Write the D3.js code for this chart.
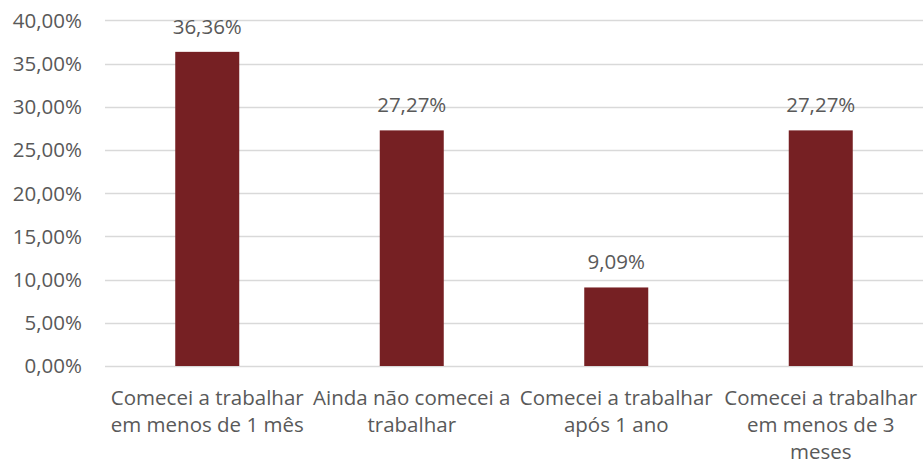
<!DOCTYPE html>
<html>
<head>
<meta charset="utf-8">
<script src="https://cdn.jsdelivr.net/npm/d3@7"></script>
<style>
  body { margin: 0; background: #fff; }
  text { font-family: "Open Sans", sans-serif; fill: #595959; }
</style>
</head>
<body>
<svg id="chart"></svg>
<script>
var w = 923;
var h = 466;

// data
var categories = [
  ["Comecei a trabalhar", "em menos de 1 mês"],
  ["Ainda não comecei a", "trabalhar"],
  ["Comecei a trabalhar", "após 1 ano"],
  ["Comecei a trabalhar", "em menos de 3", "meses"]
];
var values = [0.3636, 0.2727, 0.0909, 0.2727];
var valueLabels = ["36,36%", "27,27%", "9,09%", "27,27%"];
var yTicks = [0, 0.05, 0.10, 0.15, 0.20, 0.25, 0.30, 0.35, 0.40];

var margin = {top: 20.4, left: 105};
var fontSize = "20.5px";

var svg = d3.select("#chart")
            .attr("width", w)
            .attr("height", h);

var scaleX = d3.scaleBand()
  .domain(d3.range(values.length))
  .range([margin.left, w])
  .paddingInner(0.687)
  .paddingOuter(0.3435);

var scaleY = d3.scaleLinear()
  .domain([0, 0.4])
  .range([366, margin.top]);

var fmt = function(v){
  return (v * 100).toFixed(2).replace(".", ",") + "%";
};

// gridlines
svg.selectAll("line.grid")
  .data(yTicks)
  .enter()
  .append("line")
    .attr("class", "grid")
    .attr("x1", margin.left)
    .attr("x2", w)
    .attr("y1", function(d){ return Math.round(scaleY(d)) + 0.5; })
    .attr("y2", function(d){ return Math.round(scaleY(d)) + 0.5; })
    .style("stroke", "#d9d9d9")
    .style("stroke-width", 1.3);

// y tick labels
svg.selectAll("text.ytick")
  .data(yTicks)
  .enter()
  .append("text")
    .attr("class", "ytick")
    .attr("x", 82)
    .attr("y", function(d){ return scaleY(d); })
    .attr("dy", "0.36em")
    .attr("text-anchor", "end")
    .style("font-size", fontSize)
    .text(fmt);

// bars
svg.selectAll("rect")
  .data(values)
  .enter()
  .append("rect")
    .attr("x", function(d, i){ return scaleX(i); })
    .attr("y", function(d){ return scaleY(d); })
    .attr("width", scaleX.bandwidth())
    .attr("height", function(d){ return scaleY(0) - scaleY(d); })
    .style("fill", "#762023");

// value labels
svg.selectAll("text.vlabel")
  .data(values)
  .enter()
  .append("text")
    .attr("class", "vlabel")
    .attr("x", function(d, i){ return scaleX(i) + scaleX.bandwidth() / 2; })
    .attr("y", function(d){ return scaleY(d) - 18; })
    .attr("text-anchor", "middle")
    .style("font-size", fontSize)
    .text(function(d, i){ return valueLabels[i]; });

// category labels
var cat = svg.selectAll("text.cat")
  .data(categories)
  .enter()
  .append("text")
    .attr("class", "cat")
    .attr("text-anchor", "middle")
    .style("font-size", fontSize)
    .attr("transform", function(d, i){
      return "translate(" + (scaleX(i) + scaleX.bandwidth() / 2) + ",405)";
    });

cat.selectAll("tspan")
  .data(function(d){ return d; })
  .enter()
  .append("tspan")
    .attr("x", 0)
    .attr("y", function(d, j){ return j * 27; })
    .text(function(d){ return d; });
</script>
</body>
</html>
